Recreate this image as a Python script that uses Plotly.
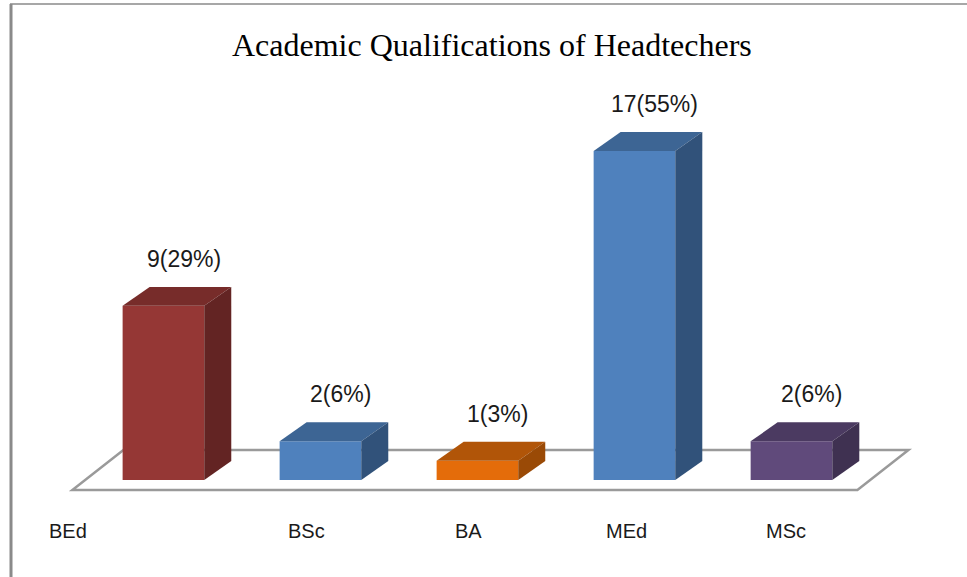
import plotly.graph_objects as go

categories = ["BEd", "BSc", "BA", "MEd", "MSc"]
counts = [9, 2, 1, 17, 2]
percents = [29, 6, 3, 55, 6]

front_colors = ["#953735", "#4F81BD", "#E46C0A", "#4F81BD", "#604A7B"]
top_colors = ["#772C2A", "#3D6594", "#B15508", "#3D6594", "#4B3A61"]
side_colors = ["#632423", "#31527A", "#9A4A06", "#31527A", "#3F3151"]

# 3d look: bar width and depth offsets in axis units
bar_w = 0.52
dx, dy = 0.172, 0.98
label_shift = [-95, -14, -9, -8, -5]

fig = go.Figure()

# floor outline (drawn below the bars)
n = len(categories)
floor = [(-0.58, -0.52), (n - 0.58, -0.52), (n - 0.255, 1.55), (-0.255, 1.55)]
path = "M " + " L ".join(f"{x},{y}" for x, y in floor) + " Z"
fig.add_shape(type="path", path=path, xref="x", yref="y", layer="below",
              line=dict(color="#9a9a9a", width=2.5), fillcolor="white")

fig.add_trace(go.Bar(
    x=list(range(n)), y=counts, width=bar_w,
    marker=dict(color=front_colors, line=dict(width=0)),
    hoverinfo="skip", showlegend=False,
))

for i, v in enumerate(counts):
    l, r = i - bar_w / 2, i + bar_w / 2
    # top face
    fig.add_trace(go.Scatter(
        x=[l, l + dx, r + dx, r, l], y=[v, v + dy, v + dy, v, v],
        fill="toself", fillcolor=top_colors[i], mode="lines",
        line=dict(width=0, color=top_colors[i]), hoverinfo="skip", showlegend=False,
    ))
    # side face
    fig.add_trace(go.Scatter(
        x=[r, r, r + dx, r + dx, r], y=[0, v, v + dy, dy, 0],
        fill="toself", fillcolor=side_colors[i], mode="lines",
        line=dict(width=0, color=side_colors[i]), hoverinfo="skip", showlegend=False,
    ))
    fig.add_annotation(
        x=i + dx / 2, y=v + dy, text=f"{v}({percents[i]}%)", showarrow=False,
        yshift=28, xshift=7, font=dict(family="Liberation Sans", size=23, color="#1a1a1a"),
    )
    fig.add_annotation(
        x=i, y=0, text=categories[i], showarrow=False, yshift=-51,
        xshift=label_shift[i], font=dict(family="Liberation Sans", size=20, color="#1a1a1a"),
    )

fig.add_annotation(
    x=492 / 967, y=1 - 45 / 577, xref="paper", yref="paper", yanchor="middle",
    text="Academic Qualifications of Headtechers", showarrow=False,
    font=dict(family="Liberation Serif", size=32, color="black"),
)

# frame lines (top and left)
fig.add_shape(type="line", xref="paper", yref="paper", x0=10 / 967, x1=1,
              y0=1 - 4 / 577, y1=1 - 4 / 577, line=dict(color="#8a8a8a", width=1.5))
fig.add_shape(type="line", xref="paper", yref="paper", x0=11 / 967, x1=11 / 967,
              y0=0, y1=1 - 4 / 577, line=dict(color="#8a8a8a", width=3))

fig.update_layout(
    width=967, height=577,
    margin=dict(l=0, r=0, t=0, b=0),
    paper_bgcolor="white", plot_bgcolor="white",
    xaxis=dict(range=[-1.041, 5.118], visible=False, fixedrange=True),
    yaxis=dict(range=[-5.013, 24.806], visible=False, fixedrange=True),
    showlegend=False,
)

# page body has a default margin; drop it so the figure sits at the window corner
fig.write_html("out.html", config={"displayModeBar": False},
               post_script="document.body.style.margin='0';")
